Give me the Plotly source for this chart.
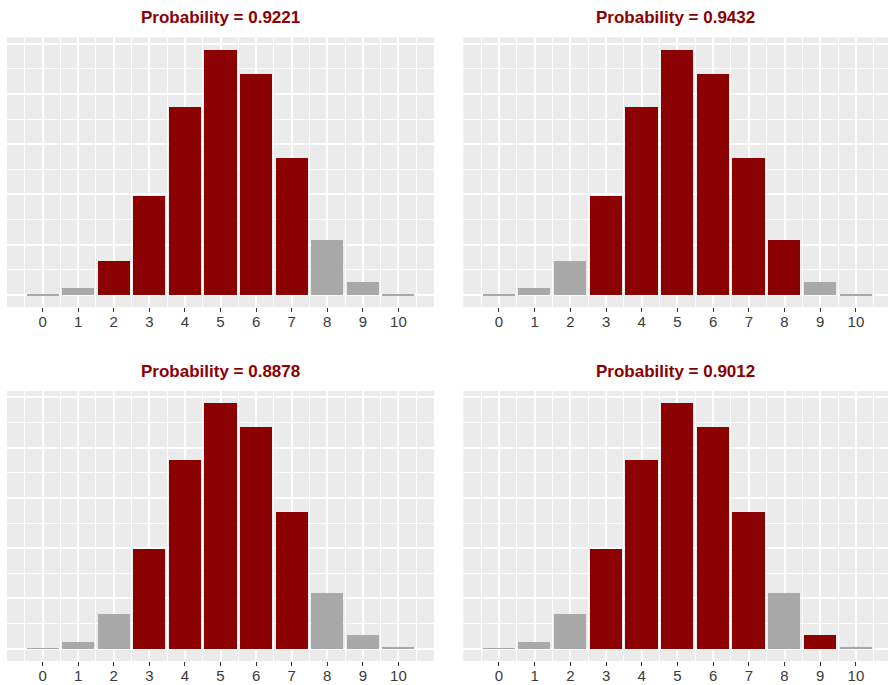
import plotly.graph_objects as go

# Binomial(n=10, p=0.52) point probabilities
outcomes = [0, 1, 2, 3, 4, 5, 6, 7, 8, 9, 10]
probs = [0.000649, 0.007034, 0.034289, 0.099056, 0.187793, 0.244131,
         0.220396, 0.136436, 0.055427, 0.013344, 0.001446]

# outcomes shaded in each panel
highlight_sets = [
    [2, 3, 4, 5, 6, 7],
    [3, 4, 5, 6, 7, 8],
    [3, 4, 5, 6, 7],
    [3, 4, 5, 6, 7, 9],
]

RED = "#8B0000"
GREY = "#A9A9A9"
PANEL_BG = "#EBEBEB"

W, H = 888, 685
# panel boxes in pixels: (left, right, top, bottom)
boxes = [
    (7, 434, 37.5, 307),
    (463.3, 888, 37.5, 307),
    (7, 434, 391, 661),
    (463.3, 888, 391, 661),
]
x_ranges = [[-1, 11], [-1, 10.9], [-1, 11], [-1, 10.9]]
y_range = [-0.0122, 0.2563]

fig = go.Figure()
annotations = []
for i, (sel, box, xr) in enumerate(zip(highlight_sets, boxes, x_ranges)):
    n = "" if i == 0 else str(i + 1)
    colors = [RED if k in sel else GREY for k in outcomes]
    fig.add_trace(go.Bar(
        x=outcomes, y=probs, width=0.9,
        marker=dict(color=colors, line=dict(width=0)),
        xaxis="x" + n, yaxis="y" + n, showlegend=False,
        hoverinfo="x+y",
    ))
    left, right, top, bottom = box
    axis_common = dict(showline=False, zeroline=False, gridcolor="white", automargin=False)
    fig.layout["xaxis" + n] = dict(
        domain=[left / W, right / W], range=xr, anchor="y" + n,
        tickmode="array", tickvals=outcomes, ticktext=[str(k) for k in outcomes],
        ticks="outside", ticklen=4, tickwidth=1.2, tickcolor="#333333",
        ticklabelstandoff=-3,
        tickfont=dict(family="Liberation Sans, Arial, sans-serif", size=15, color="#3A3A3A"),
        gridwidth=1.8, fixedrange=True,
        minor=dict(dtick=0.5, tick0=-0.5, showgrid=True, gridcolor="white", gridwidth=0.8, ticks=""),
        **axis_common,
    )
    fig.layout["yaxis" + n] = dict(
        domain=[1 - bottom / H, 1 - top / H], range=y_range, anchor="x" + n,
        tick0=0, dtick=0.05, showticklabels=False, ticks="",
        gridwidth=1.8, fixedrange=True,
        minor=dict(dtick=0.025, tick0=0, showgrid=True, gridcolor="white", gridwidth=0.8, ticks=""),
        **axis_common,
    )
    total = sum(p for k, p in zip(outcomes, probs) if k in sel)
    annotations.append(dict(
        text=f"<b>Probability = {total:.4f}</b>",
        x=(left + right) / 2 / W, y=1 - (top - 20) / H,
        xref="paper", yref="paper", xanchor="center", yanchor="middle",
        showarrow=False,
        font=dict(family="Liberation Sans, Arial, sans-serif", size=17, color=RED),
    ))

fig.update_layout(
    width=W, height=H,
    margin=dict(l=0, r=0, t=0, b=0, autoexpand=False),
    paper_bgcolor="white",
    plot_bgcolor=PANEL_BG,
    bargap=0,
    annotations=annotations,
)

fig.write_html("out.html")
